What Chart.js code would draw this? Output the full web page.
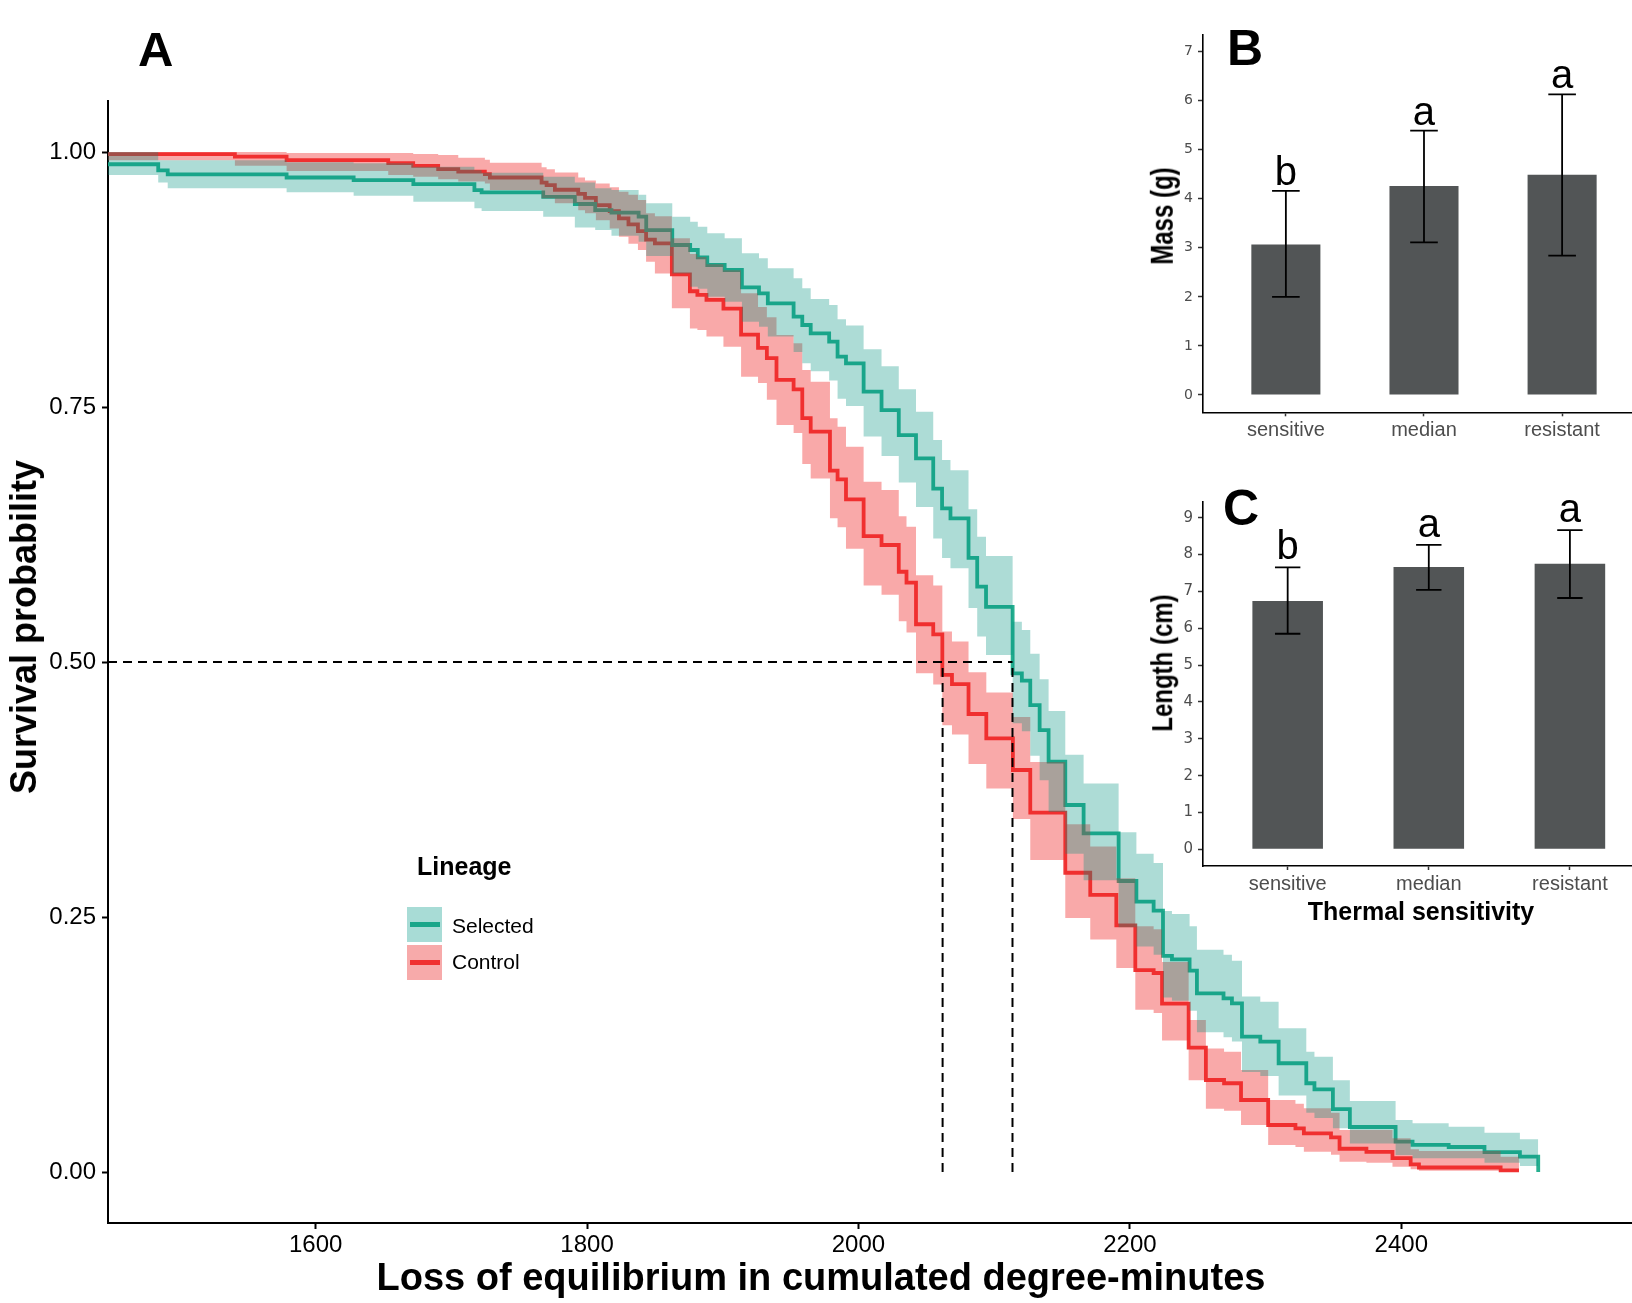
<!DOCTYPE html>
<html>
<head>
<meta charset="utf-8">
<script src="https://cdn.jsdelivr.net/npm/chart.js@4.4.1/dist/chart.umd.min.js"></script>
<style>
  body { margin: 0; background: #fff; }
  #page { position: relative; width: 1632px; height: 1303px; overflow: hidden; background: #fff; }
  canvas { position: absolute; }
  .txt { position: absolute; white-space: nowrap; line-height: 1; font-family: 'Liberation Sans', Arial, sans-serif; color: #000; }
  .swatch { position: absolute; width: 35px; height: 35px; }
  .swatch div { position: absolute; left: 3px; width: 30px; height: 5px; top: 15px; }
</style>
</head>
<body>
<div id="page">
  <canvas id="survChart" width="1632" height="1303" style="left:0;top:0;width:1632px;height:1303px"></canvas>
  <canvas id="massChart" width="492" height="440" style="left:1140px;top:20px;width:492px;height:440px"></canvas>
  <canvas id="lengthChart" width="492" height="440" style="left:1140px;top:480px;width:492px;height:440px"></canvas>

  <div class="swatch" style="left:407px;top:907px;background:#a8dcd6"><div style="background:#1aa68a"></div></div>
  <div class="swatch" style="left:407px;top:945px;background:#f7aaaa"><div style="background:#f03030"></div></div>
</div>
<script>
// ---- panel A : survival curves (Kaplan-Meier steps) ----
const xTicks = [1600, 1800, 2000, 2200, 2400];
const yTicks = [0, 0.25, 0.5, 0.75, 1];
const yTickLabels = ['0.00', '0.25', '0.50', '0.75', '1.00'];
const xMin = 1447, xMax = 2570;

// Selected lineage
const selTime  = [1447, 1484, 1491, 1578.6, 1628, 1672, 1717, 1722.3, 1767.7, 1791, 1806, 1818, 1838, 1843.6, 1862.8, 1876, 1881.6, 1888.6, 1901.4, 1914.1, 1926.7, 1933.2, 1952.2, 1958.6, 1964.8, 1978.4, 1984.6, 1990.8, 2003.8, 2017, 2029.7, 2042.4, 2055.1, 2061.6, 2067.8, 2081.1, 2087.5, 2094, 2113.6, 2120.4, 2126.6, 2133.5, 2140.1, 2152.4, 2165.9, 2191.7, 2204.8, 2217.5, 2224.4, 2231, 2244, 2249.4, 2269, 2275.2, 2282.6, 2296.1, 2309.6, 2330, 2336, 2349.6, 2362.1, 2395.8, 2408.3, 2434.9, 2461.3, 2487.4, 2500.9];
const selSurv  = [0.988, 0.982, 0.978, 0.975, 0.9725, 0.9686, 0.9627, 0.9605, 0.956, 0.949, 0.943, 0.9405, 0.9366, 0.9235, 0.9088, 0.9039, 0.8967, 0.8892, 0.8843, 0.8673, 0.8614, 0.8516, 0.8386, 0.8304, 0.8222, 0.814, 0.7993, 0.7928, 0.765, 0.747, 0.7225, 0.6997, 0.670, 0.6507, 0.6409, 0.602, 0.5738, 0.554, 0.4889, 0.4817, 0.4578, 0.4333, 0.4023, 0.3598, 0.332, 0.2853, 0.265, 0.2562, 0.2118, 0.2085, 0.1974, 0.1752, 0.1703, 0.1654, 0.1327, 0.1278, 0.1066, 0.087, 0.081, 0.0617, 0.0441, 0.0297, 0.0265, 0.0245, 0.0194, 0.015, 0];
const selLower = [0.9775, 0.970, 0.9644, 0.9605, 0.9572, 0.9513, 0.9448, 0.9422, 0.9366, 0.926, 0.9235, 0.918, 0.912, 0.898, 0.881, 0.868, 0.866, 0.8582, 0.8533, 0.8336, 0.8287, 0.819, 0.804, 0.7928, 0.785, 0.776, 0.758, 0.751, 0.721, 0.702, 0.676, 0.652, 0.621, 0.602, 0.592, 0.553, 0.525, 0.5069, 0.440, 0.432, 0.408, 0.384, 0.353, 0.312, 0.286, 0.240, 0.221, 0.213, 0.171, 0.168, 0.158, 0.137, 0.132, 0.128, 0.098, 0.094, 0.075, 0.058, 0.053, 0.0428, 0.028, 0.0167, 0.0134, 0.0134, 0.009, 0.006, 0];
const selUpper = [1.0, 0.992, 0.992, 0.9899, 0.9889, 0.9856, 0.982, 0.9797, 0.9758, 0.970, 0.9644, 0.9627, 0.958, 0.9497, 0.9366, 0.9317, 0.9268, 0.9203, 0.9154, 0.9007, 0.8958, 0.886, 0.8762, 0.8664, 0.856, 0.850, 0.836, 0.830, 0.8066, 0.790, 0.7673, 0.7454, 0.7176, 0.698, 0.688, 0.6497, 0.6229, 0.604, 0.5395, 0.5314, 0.508, 0.483, 0.452, 0.409, 0.381, 0.333, 0.312, 0.303, 0.256, 0.253, 0.241, 0.218, 0.213, 0.207, 0.172, 0.167, 0.1409, 0.118, 0.113, 0.090, 0.0696, 0.051, 0.0477, 0.0444, 0.0385, 0.032, 0];
const selEnd = 2500.9;

// Control lineage
const ctlTime  = [1447, 1540.5, 1578.6, 1653.5, 1671.9, 1690.3, 1705.1, 1724.7, 1728.4, 1766.5, 1770.2, 1776.3, 1793.5, 1798.5, 1806.5, 1816.7, 1823.5, 1830.5, 1837.5, 1843.5, 1850, 1862.5, 1875.8, 1881.3, 1888, 1900.5, 1913.5, 1926, 1932.5, 1939.6, 1952.2, 1958.6, 1964.8, 1979, 1984.6, 1990.8, 2003.8, 2017, 2029.7, 2035.4, 2042.4, 2055.1, 2061.8, 2068.9, 2081.1, 2094.2, 2113.8, 2126.6, 2152.4, 2170.8, 2190, 2204, 2217.5, 2223.7, 2243.3, 2256, 2269.4, 2281.9, 2301.9, 2322, 2328.2, 2348.2, 2354.5, 2374.3, 2393.5, 2406.9, 2413, 2473.2];
const ctlSurv  = [0.998, 0.9955, 0.992, 0.989, 0.9863, 0.9833, 0.9807, 0.9784, 0.975, 0.970, 0.9676, 0.963, 0.959, 0.955, 0.948, 0.942, 0.935, 0.929, 0.9225, 0.914, 0.9105, 0.880, 0.8635, 0.860, 0.855, 0.8465, 0.821, 0.808, 0.798, 0.7765, 0.7673, 0.739, 0.7258, 0.6876, 0.679, 0.6595, 0.6235, 0.6147, 0.5885, 0.5778, 0.537, 0.527, 0.4873, 0.4784, 0.449, 0.4252, 0.3941, 0.3523, 0.2934, 0.2716, 0.2417, 0.198, 0.1951, 0.165, 0.122, 0.0902, 0.087, 0.0706, 0.0461, 0.0428, 0.0379, 0.034, 0.0228, 0.0197, 0.0137, 0.0074, 0.0044, 0.0016];
const ctlLower = [0.992, 0.9866, 0.9814, 0.9775, 0.9758, 0.9732, 0.971, 0.969, 0.9627, 0.9546, 0.9546, 0.9497, 0.943, 0.940, 0.933, 0.925, 0.917, 0.910, 0.9039, 0.8925, 0.881, 0.8467, 0.827, 0.8255, 0.819, 0.809, 0.7797, 0.7735, 0.757, 0.7324, 0.7245, 0.694, 0.680, 0.641, 0.632, 0.611, 0.575, 0.566, 0.540, 0.529, 0.489, 0.478, 0.438, 0.429, 0.400, 0.376, 0.346, 0.306, 0.249, 0.228, 0.200, 0.159, 0.156, 0.129, 0.090, 0.062, 0.060, 0.046, 0.0265, 0.0245, 0.0199, 0.017, 0.0101, 0.009, 0.0052, 0.0026, 0.0013, 0.0004];
const ctlUpper = [1.0, 1.0, 0.999, 0.999, 0.998, 0.997, 0.9944, 0.9925, 0.9895, 0.985, 0.983, 0.980, 0.975, 0.972, 0.969, 0.9654, 0.961, 0.958, 0.953, 0.940, 0.937, 0.9154, 0.900, 0.897, 0.890, 0.884, 0.8614, 0.848, 0.838, 0.8206, 0.8124, 0.7863, 0.7748, 0.7389, 0.7307, 0.7111, 0.6768, 0.6686, 0.643, 0.6327, 0.585, 0.575, 0.53, 0.52, 0.49, 0.47, 0.446, 0.402, 0.341, 0.319, 0.288, 0.241, 0.238, 0.206, 0.149, 0.121, 0.118, 0.100, 0.0706, 0.067, 0.0624, 0.058, 0.0412, 0.0412, 0.033, 0.0222, 0.0205, 0.015];
const ctlEnd = 2486.7;

// median survival (dashed guides)
const medianTimes = [2062, 2113.5];
const medianLevel = 0.5;

// ---- panels B and C : body size by thermal sensitivity ----
const sensitivityGroups = ['sensitive', 'median', 'resistant'];
const massMean = [3.07, 4.26, 4.49];
const massLow = [2.00, 3.11, 2.84];
const massHigh = [4.16, 5.39, 6.13];
const massLetters = ['b', 'a', 'a'];
const massTicks = [0, 1, 2, 3, 4, 5, 6, 7];
const lengthMean = [6.74, 7.66, 7.75];
const lengthLow = [5.85, 7.04, 6.82];
const lengthHigh = [7.65, 8.26, 8.66];
const lengthLetters = ['b', 'a', 'a'];
const lengthTicks = [0, 1, 2, 3, 4, 5, 6, 7, 8, 9];

function stepPoints(times, values, end) {
  const pts = [];
  for (let i = 0; i < times.length; i++) {
    if (i > 0) pts.push({x: times[i], y: values[i - 1]});
    pts.push({x: times[i], y: values[i]});
  }
  pts.push({x: end, y: values[values.length - 1]});
  return pts;
}

const hidden = 'rgba(0,0,0,0)';
const dash = {borderColor: '#000', borderWidth: 2, borderDash: [9, 6], order: 0, fill: false};

new Chart(document.getElementById('survChart'), {
  type: 'line',
  data: {
    datasets: [
      {label: 'selUpper', data: stepPoints(selTime, selUpper, selEnd), borderColor: hidden, borderWidth: 0,
       fill: '+1', backgroundColor: 'rgba(0,146,127,0.32)', order: 1},
      {label: 'selLower', data: stepPoints(selTime, selLower, selEnd), borderColor: hidden, borderWidth: 0, fill: false, order: 1},
      {label: 'ctlUpper', data: stepPoints(ctlTime, ctlUpper, ctlEnd), borderColor: hidden, borderWidth: 0,
       fill: '+1', backgroundColor: 'rgba(240,40,40,0.4)', order: 2},
      {label: 'ctlLower', data: stepPoints(ctlTime, ctlLower, ctlEnd), borderColor: hidden, borderWidth: 0, fill: false, order: 2},
      {label: 'Selected', data: stepPoints(selTime, selSurv, selEnd), borderColor: 'rgb(38,175,143)', borderWidth: 3.8, fill: false, order: 3},
      {label: 'Control', data: stepPoints(ctlTime, ctlSurv, ctlEnd), borderColor: 'rgb(240,53,53)', borderWidth: 3.8, fill: false, order: 4},
      Object.assign({label: 'h', data: [{x: xMin, y: medianLevel}, {x: Math.max(...medianTimes), y: medianLevel}]}, dash),
      Object.assign({label: 'v1', data: [{x: medianTimes[0], y: 0}, {x: medianTimes[0], y: medianLevel}]}, dash),
      Object.assign({label: 'v2', data: [{x: medianTimes[1], y: 0}, {x: medianTimes[1], y: medianLevel}]}, dash)
    ]
  },
  options: {
    responsive: false,
    animation: false,
    devicePixelRatio: 1,
    layout: {padding: {top: 101, left: 0, right: 0, bottom: 0}},
    plugins: {legend: {display: false}, tooltip: {enabled: false}},
    elements: {point: {radius: 0}, line: {tension: 0}},
    scales: {
      x: {
        type: 'linear', min: xMin, max: xMax,
        afterFit: s => { s.height = 80; },
        afterBuildTicks: s => { s.ticks = xTicks.map(v => ({value: v})); },
        ticks: {font: {family: 'Liberation Sans', size: 24}, color: '#000', padding: 2, maxRotation: 0, autoSkip: false,
                callback: v => String(v)},
        grid: {drawOnChartArea: false, tickLength: 6, tickWidth: 2, tickColor: '#000'},
        border: {color: '#000', width: 2}
      },
      y: {
        type: 'linear', min: -0.05, max: 1.05,
        afterFit: s => { s.width = 108; },
        afterBuildTicks: s => { s.ticks = yTicks.map(v => ({value: v})); },
        ticks: {font: {family: 'Liberation Sans', size: 24}, color: '#000', padding: 6, autoSkip: false,
                callback: v => yTickLabels[yTicks.indexOf(v)]},
        grid: {drawOnChartArea: false, tickLength: 6, tickWidth: 2, tickColor: '#000'},
        border: {color: '#000', width: 2}
      }
    }
  }
});

// error bars and significance letters on the bar insets
const errorBars = {
  id: 'errorBars',
  afterDatasetsDraw(chart, args, o) {
    const ctx = chart.ctx, x = chart.scales.x, y = chart.scales.y;
    ctx.save();
    ctx.strokeStyle = '#000';
    ctx.lineWidth = 1.8;
    ctx.fillStyle = '#000';
    ctx.font = "40px 'Liberation Sans', Arial, sans-serif";
    ctx.textAlign = 'center';
    ctx.textBaseline = 'alphabetic';
    o.low.forEach((lo, i) => {
      const cx = x.getPixelForValue(i + 1);
      const half = x.getPixelForValue(i + 1 + o.cap) - cx;
      const yl = y.getPixelForValue(lo), yh = y.getPixelForValue(o.high[i]);
      ctx.beginPath();
      ctx.moveTo(cx, yl); ctx.lineTo(cx, yh);
      ctx.moveTo(cx - half, yl); ctx.lineTo(cx + half, yl);
      ctx.moveTo(cx - half, yh); ctx.lineTo(cx + half, yh);
      ctx.stroke();
      ctx.fillText(o.letters[i], cx, yh - o.gap);
    });
    ctx.restore();
  }
};

function barInset(id, means, low, high, letters, ticks, yMin, yMax, xMaxV, top, xHeight, cap, gap, yFont) {
  new Chart(document.getElementById(id), {
    type: 'bar',
    data: {datasets: [{data: means.map((m, i) => ({x: i + 1, y: m})), backgroundColor: '#525556',
                       barPercentage: 0.5, categoryPercentage: 1}]},
    options: {
      responsive: false,
      animation: false,
      devicePixelRatio: 1,
      layout: {padding: {top: top, left: 0, right: 0, bottom: 0}},
      plugins: {legend: {display: false}, tooltip: {enabled: false},
                errorBars: {low: low, high: high, letters: letters, cap: cap, gap: gap}},
      scales: {
        x: {
          type: 'linear', min: 0.4, max: xMaxV, offset: false,
          afterFit: s => { s.height = xHeight; },
          afterBuildTicks: s => { s.ticks = sensitivityGroups.map((g, i) => ({value: i + 1})); },
          ticks: {font: {family: 'Liberation Sans', size: 20}, color: '#4d4d4d', padding: 2, maxRotation: 0, autoSkip: false,
                  callback: v => sensitivityGroups[v - 1]},
          grid: {offset: false, drawOnChartArea: false, tickLength: 4, tickWidth: 1.5, tickColor: '#333'},
          border: {color: '#000', width: 1.6}
        },
        y: {
          type: 'linear', min: yMin, max: yMax,
          afterFit: s => { s.width = 63; },
          afterBuildTicks: s => { s.ticks = ticks.map(v => ({value: v})); },
          ticks: {font: {family: 'DejaVu Sans', size: yFont}, color: '#4d4d4d', padding: 5, autoSkip: false,
                  callback: v => String(v)},
          grid: {drawOnChartArea: false, tickLength: 5, tickWidth: 1.5, tickColor: '#333'},
          border: {color: '#000', width: 1.6}
        }
      }
    },
    plugins: [errorBars]
  });
}

barInset('massChart', massMean, massLow, massHigh, massLetters, massTicks, -0.353, 7.34, 3.506, 15, 47.7, 0.1, 6, 14);
barInset('lengthChart', lengthMean, lengthLow, lengthHigh, lengthLetters, lengthTicks, -0.453, 9.434, 3.44, 21.7, 54, 0.09, 8, 15);

// ---- text: panel letters, axis titles, legend ----
const page = document.getElementById('page');
function label(str, x, y, size, o) {
  o = o || {};
  const d = document.createElement('div');
  d.className = 'txt';
  d.textContent = str;
  d.style.fontSize = size + 'px';
  d.style.fontWeight = o.bold ? '700' : '400';
  d.style.left = x + 'px';
  if (o.rotate) {
    d.style.top = y + 'px';
    d.style.transform = 'translate(-50%,-50%) rotate(-90deg)' + (o.stretch ? ' scaleY(' + o.stretch + ')' : '');
  } else {
    d.style.top = (y - 0.8465 * size) + 'px';
    if (o.center) d.style.transform = 'translateX(-50%)';
  }
  page.appendChild(d);
}

label('A', 138, 66, 49, {bold: true});
label('B', 1227, 65, 50, {bold: true});
label('C', 1223, 525, 50, {bold: true});
label('Loss of equilibrium in cumulated degree-minutes', 821, 1290, 38, {bold: true, center: true});
label('Survival probability', 24, 627, 36, {bold: true, rotate: true});
label('Mass (g)', 1162, 216, 24, {bold: true, rotate: true, stretch: 1.3});
label('Length (cm)', 1163, 663, 24, {bold: true, rotate: true, stretch: 1.2});
label('Thermal sensitivity', 1421, 920, 25, {bold: true, center: true});
label('Lineage', 417, 875, 25, {bold: true});
label('Selected', 452, 933, 21);
label('Control', 452, 969, 21);
</script>
</body>
</html>
